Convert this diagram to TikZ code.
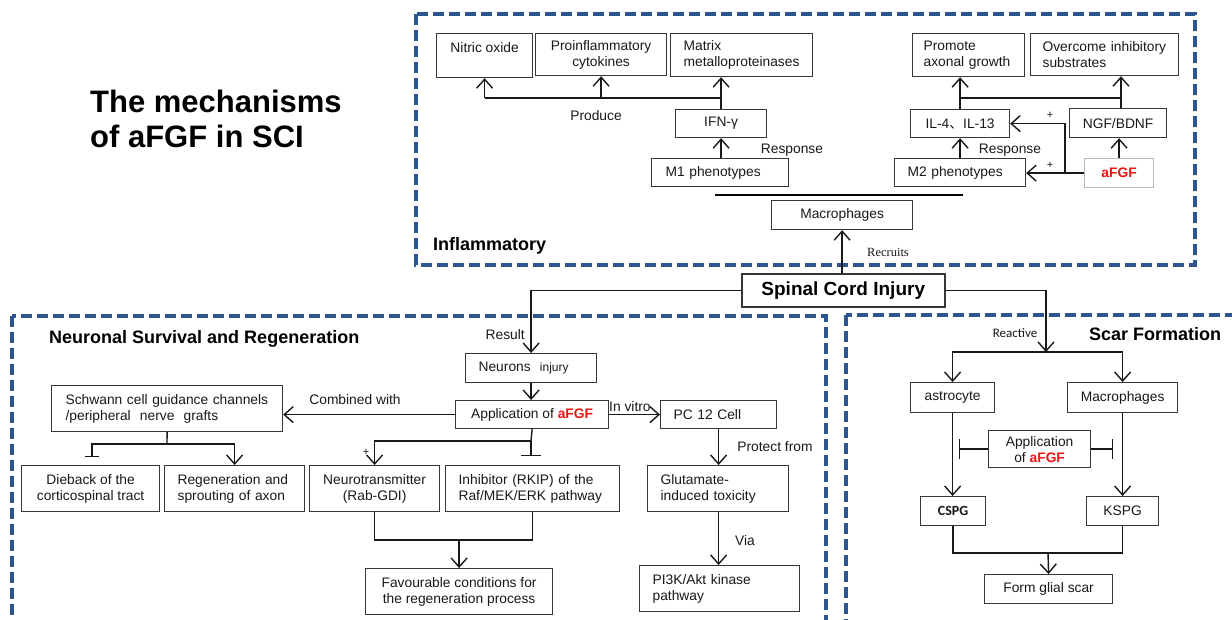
\documentclass[tikz,border=0pt]{standalone}
\usepackage{fontspec}
\setmainfont{Liberation Sans}
\newfontfamily\serifrm{Liberation Serif}
\newfontfamily\carlito{Carlito}
\newfontfamily\cjk{Noto Sans CJK SC}
\usetikzlibrary{arrows.meta}
\hyphenpenalty=10000
\exhyphenpenalty=10000
\definecolor{dashblue}{RGB}{45,85,142}
\definecolor{bord}{RGB}{55,55,55}
\definecolor{txt}{RGB}{25,25,25}
\definecolor{afred}{RGB}{240,20,20}
\definecolor{lightbord}{RGB}{185,185,185}
\newcommand{\fsz}{\fontsize{13.8}{16}\selectfont}
\newcommand{\af}{{\bfseries\color{afred}aFGF}}
\begin{document}
\begin{tikzpicture}[x=1pt,y=-1pt,
  bx/.style={draw=bord, line width=1.2pt, inner sep=0pt, anchor=north west, font=\fsz, text=txt, align=center},
  lbx/.style={bx, align=left},
  arr/.style={draw=txt, line width=1.4pt, -{Straight Barb[length=9pt,width=16pt]}},
  ln/.style={draw=txt, line width=1.4pt},
  inh/.style={draw=txt, line width=1.4pt, -{Bar[width=#1]}},
  lbl/.style={font=\fsz, text=txt, inner sep=0pt},
  plus/.style={font=\fontsize{11}{12}\selectfont, text=txt, inner sep=0pt},
  sect/.style={font=\fontsize{18}{20}\selectfont\bfseries, text=black, inner sep=0pt, anchor=west},
  dashbox/.style={draw=dashblue, line width=3.2pt, dash pattern=on 11pt off 5pt}
]
\clip (0,0) rectangle (1232,619);
\fill[white] (0,0) rectangle (1232,619);

% dashed section frames
\draw[dashbox] (416,14) rectangle (1195,265);
\draw[dashbox] (12,316) rectangle (826,640);
\draw[dashbox] (846,315) rectangle (1260,640);

% title
\node[font=\fontsize{31}{36}\selectfont\bfseries, anchor=base west, inner sep=0pt] (title1) at (90,112) {The mechanisms};
\node[font=\fontsize{31}{36}\selectfont\bfseries, anchor=base west, inner sep=0pt] (title2) at (90,147) {of aFGF in SCI};

% section titles
\node[sect] (tinf) at (433,246) {Inflammatory};
\node[sect] (tneu) at (49,339) {Neuronal Survival and Regeneration};
\node[sect] (tscar) at (1089,334) {Scar Formation};

% ---------------- Inflammatory ----------------
\node[bx, minimum width=96, minimum height=44] (nitric) at (436,33) {Nitric oxide\\\mbox{}};
\node[bx, minimum width=131, minimum height=42] (proinf) at (535,33) {Proinflammatory\\cytokines};
\node[lbx, minimum width=142, minimum height=43, inner xsep=13, text width=116] (matrix) at (670,33) {Matrix\\metalloproteinases};
\node[bx, minimum width=91, minimum height=28] (ifn) at (675,109) {IFN-γ};
\node[lbx, minimum width=137, minimum height=28, inner xsep=14, text width=109] (m1) at (651,158) {M1 phenotypes};
\node[bx, minimum width=141, minimum height=29] (mac1) at (771,200) {Macrophages};
\node[lbx, minimum width=112, minimum height=43, inner xsep=11, text width=90] (promote) at (912,33) {Promote\\axonal growth};
\node[lbx, minimum width=148, minimum height=42, inner xsep=12, text width=124] (overcome) at (1030,33) {Overcome inhibitory\\substrates};
\node[bx, minimum width=99, minimum height=28] (il) at (910,109) {IL-4{\cjk 、}IL-13};
\node[bx, minimum width=97, minimum height=29] (ngf) at (1069,108) {NGF/BDNF};
\node[lbx, minimum width=131, minimum height=28, inner xsep=13, text width=105] (m2) at (894,158) {M2 phenotypes};
\node[bx, draw=lightbord, minimum width=69, minimum height=29] (afgf1) at (1084,158) {\af};

\coordinate (jp) at (720,98);
\draw[ln] (ifn.north) -- (ifn.north|-jp) -- (nitric.south|-jp);
\draw[arr] (ifn.north|-jp) -- (ifn.north|-matrix.south);
\draw[arr] (nitric.south|-jp) -- (nitric.south);
\draw[arr] (proinf.south|-jp) -- (proinf.south);
\node[lbl] (produce) at (596,116) {Produce};
\draw[arr] (ifn.south|-m1.north) -- (ifn.south);
\node[lbl] (resp1) at (792,150) {Response};
\coordinate (bl) at (715,195);
\coordinate (br) at (963,195);
\draw[draw=black, line width=2.4pt] (bl) -- (br);

\coordinate (jr) at (1121,98);
\draw[ln] (il.north) -- (il.north|-jr) -- (jr);
\draw[arr] (il.north|-jr) -- (il.north|-promote.south);
\draw[arr] (jr|-ngf.north) -- (jr|-overcome.south);
\draw[arr] (il.south|-m2.north) -- (il.south);
\node[lbl] (resp2) at (1010,150) {Response};
\coordinate (ja) at (1065,172.5);
\draw[arr] (afgf1.west) -- (afgf1.west-|m2.east);
\draw[arr] (ja) -- (ja|-il.east) -- (il.east);
\node[plus] (p1) at (1050,115) {+};
\node[plus] (p2) at (1050,165) {+};
\draw[arr] (afgf1.north) -- (afgf1.north|-ngf.south);

% ---------------- Spinal cord injury ----------------
\node[bx, minimum width=203, minimum height=33, line width=1.5pt, font=\fontsize{19}{22}\selectfont\bfseries, text=black] (sci) at (741,273) {Spinal Cord Injury};
\draw[arr] (mac1.south|-sci.north) -- (mac1.south);
\node[font=\serifrm\fontsize{12.5}{14}\selectfont, text=txt, inner sep=0pt] (recruits) at (888,252) {Recruits};

% ---------------- Neuronal ----------------
\node[lbx, minimum width=131, minimum height=29, inner xsep=13, text width=105] (neurons) at (465,353) {Neurons\ \ {\fontsize{12}{14}\selectfont injury}};
\node[bx, minimum width=153, minimum height=28] (app1) at (455,400) {Application of \af};
\node[lbx, minimum width=231, minimum height=46, inner xsep=14, text width=203] (schwann) at (51,385) {Schwann cell guidance channels\\/peripheral\ \ nerve\ \ grafts};
\node[bx, minimum width=138, minimum height=46] (dieback) at (21,465) {Dieback of the\\corticospinal tract};
\node[lbx, minimum width=140, minimum height=46, inner xsep=13, text width=114] (regen) at (164,465) {Regeneration and\\sprouting of axon};
\node[bx, minimum width=130, minimum height=46] (neuro) at (309,465) {Neurotransmitter\\(Rab-GDI)};
\node[lbx, minimum width=174, minimum height=46, inner xsep=13, text width=148] (inhib) at (445,465) {Inhibitor (RKIP) of the\\Raf/MEK/ERK pathway};
\node[bx, minimum width=187, minimum height=46] (favour) at (365,568) {Favourable conditions for\\the regeneration process};
\node[lbx, minimum width=116, minimum height=28, inner xsep=13, text width=90] (pc12) at (660,400) {PC 12 Cell};
\node[lbx, minimum width=141, minimum height=46, inner xsep=13, text width=115] (glut) at (647,465) {Glutamate-\\induced toxicity};
\node[lbx, minimum width=160, minimum height=46, inner xsep=13, text width=134] (pi3k) at (639,565) {PI3K/Akt kinase\\pathway};

\draw[arr] (sci.west) -| (neurons.north);
\node[lbl, anchor=east] (result) at (525,335) {Result};
\draw[arr] (neurons.south) -- (neurons.south|-app1.north);
\draw[arr] (app1.west) -- (app1.west-|schwann.east);
\node[lbl] (comb) at (355,400) {Combined with};
\draw[arr] (app1.east) -- (pc12.west);
\node[lbl, anchor=west] (invitro) at (609,407) {In vitro};

\coordinate (jsw) at (167,444);
\coordinate (db) at (92,457);
\draw[ln] (schwann.south) -- (jsw);
\draw[arr] (jsw) -| (regen.north);
\draw[inh=14pt] (jsw) -| (db);

\coordinate (ja1) at (531,441);
\coordinate (ib) at (531,456);
\draw[ln] (app1.south) -- (ja1);
\draw[arr] (ja1) -| (neuro.north);
\draw[inh=20pt] (ja1) -- (ib);
\node[plus] (p3) at (366,452) {+};

\coordinate (jf) at (458,540);
\draw[ln] (neuro.south) |- (jf) -| (inhib.south);
\draw[arr] (favour.north|-jf) -- (favour.north);

\draw[arr] (pc12.south) -- (pc12.south|-glut.north);
\node[lbl] (protect) at (775,447) {Protect from};
\draw[arr] (pc12.south|-glut.south) -- (pc12.south|-pi3k.north);
\node[lbl] (via) at (745,541) {Via};

% ---------------- Scar formation ----------------
\node[bx, minimum width=84, minimum height=30] (astro) at (910,382) {astrocyte};
\node[bx, minimum width=110, minimum height=30] (mac2) at (1067,382) {Macrophages};
\node[bx, minimum width=102, minimum height=37] (app2) at (988,430) {Application\\of \af};
\node[bx, minimum width=65, minimum height=29, font=\carlito\fontsize{14}{16}\selectfont\bfseries] (cspg) at (920,496) {CSPG};
\node[bx, minimum width=72, minimum height=29] (kspg) at (1086,496) {KSPG};
\node[bx, minimum width=128, minimum height=29] (glial) at (984,574) {Form glial scar};

\coordinate (js) at (1046,352);
\draw[arr] (sci.east) -| (js);
\node[font=\carlito\fontsize{13}{15}\selectfont, text=txt, inner sep=0pt] (reactive) at (1015,333) {Reactive};
\draw[arr] (js) -| (astro.north);
\draw[arr] (js) -| (mac2.north);
\draw[arr] (astro.south) -- (astro.south|-cspg.north);
\draw[arr] (mac2.south) -- (mac2.south|-kspg.north);
\draw[inh=20pt] (app2.west) -- ++(-29,0);
\draw[inh=20pt] (app2.east) -- ++(22,0);
\coordinate (jg) at (1048,553);
\draw[ln] (cspg.south) |- (jg) -| (kspg.south);
\draw[arr] (jg) -- (glial.north);
\end{tikzpicture}
\end{document}
